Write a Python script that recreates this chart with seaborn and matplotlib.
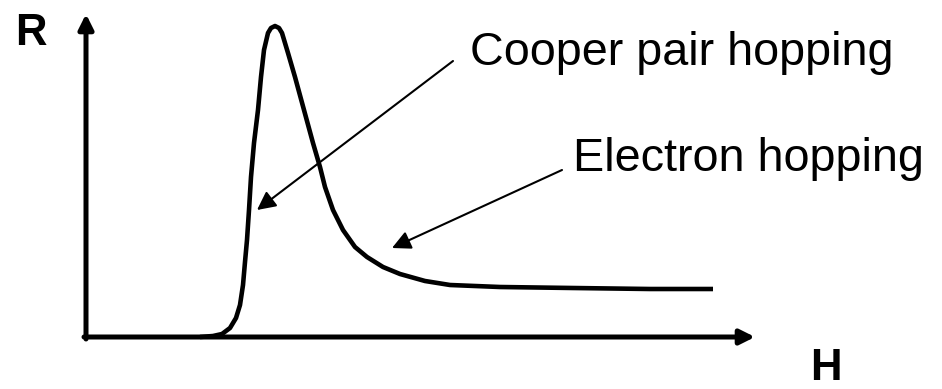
import matplotlib
matplotlib.use('Agg')
import matplotlib.pyplot as plt
import seaborn as sns
import pandas as pd

# Sketch curve: magnetic field H vs resistance R (arbitrary units)
h_values = [114, 127, 136, 144, 150, 154, 157, 159, 161, 163, 165, 168, 172, 175,
            178, 182, 185, 189, 193, 196, 202, 209, 218, 227, 234, 239, 247, 257,
            269, 281, 297, 314, 339, 364, 414, 487, 564, 627]
r_values = [0, 1, 3, 9, 19, 32, 52, 75, 97, 127, 160, 194, 227, 260,
            287, 304, 309, 311, 309, 304, 284, 260, 227, 194, 170, 150, 127, 107,
            90, 80, 70, 63, 56, 52, 50, 49, 48, 48]

axis_labels = ['H', 'R']
annotations = ['Cooper pair hopping', 'Electron hopping']

sns.set_theme(style='white')
plt.rcParams['font.family'] = ['Liberation Sans', 'DejaVu Sans']
plt.rcParams['text.color'] = 'black'

df = pd.DataFrame({'H': h_values, 'R': r_values})

fig = plt.figure(figsize=(9.42, 3.89), dpi=100)
ax = fig.add_axes([0, 0, 1, 1])

sns.lineplot(data=df, x='H', y='R', sort=False, color='black', linewidth=3.3,
             solid_joinstyle='round', solid_capstyle='butt', ax=ax)

ax.set_xlim(-86, 856)
ax.set_ylim(-52, 337)
ax.axis('off')

# Axes drawn as arrows
axis_style = dict(arrowstyle='-|>', lw=3.6, color='black', mutation_scale=22,
                  shrinkA=0, shrinkB=0)
ax.annotate('', xy=(0, 323), xytext=(0, -2), arrowprops=axis_style)
ax.annotate('', xy=(669, 0), xytext=(-2, 0), arrowprops=axis_style)

ax.text(-71, 292, axis_labels[1], fontsize=31.5, fontweight='bold',
        color='black', va='baseline', ha='left')
ax.text(724, -43, axis_labels[0], fontsize=31.5, fontweight='bold',
        color='black', va='baseline', ha='left')

# Labels with pointer arrows
pointer_style = dict(arrowstyle='-|>', lw=1.5, color='black', mutation_scale=28,
                     shrinkA=0, shrinkB=0)
ax.annotate('', xy=(171, 127), xytext=(367, 276), arrowprops=pointer_style)
ax.annotate('', xy=(306, 89), xytext=(476, 167), arrowprops=pointer_style)

ax.text(383.5, 272, annotations[0], fontsize=33.7, color='black', va='baseline', ha='left')
ax.text(487, 166, annotations[1], fontsize=33.7, color='black', va='baseline', ha='left')

fig.savefig('out.png', dpi=100, facecolor='white')
